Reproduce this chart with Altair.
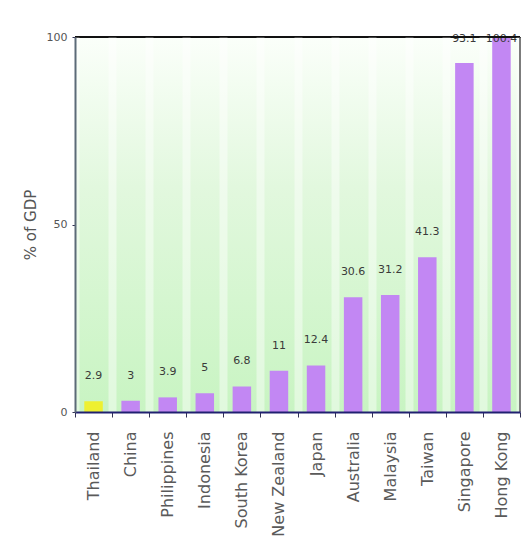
import altair as alt
import pandas as pd

countries = ["Thailand", "China", "Philippines", "Indonesia", "South Korea",
             "New Zealand", "Japan", "Australia", "Malaysia", "Taiwan",
             "Singapore", "Hong Kong"]
values = [2.9, 3.0, 3.9, 5.0, 6.8, 11.0, 12.4, 30.6, 31.2, 41.3, 93.1, 100.4]
labels = ["2.9", "3", "3.9", "5", "6.8", "11", "12.4", "30.6", "31.2", "41.3",
          "93.1", "100.4"]
highlight = ["Thailand"]

df = pd.DataFrame({"country": countries, "value": values, "label": labels})
df["hl"] = df["country"].isin(highlight).map({True: "yes", False: "no"})

W, H = 445, 375

xenc = alt.X("country:N", sort=countries, title=None,
             scale=alt.Scale(paddingInner=0, paddingOuter=0),
             axis=alt.Axis(labelAngle=-90, labelFont="DejaVu Sans",
                           labelFontSize=16, labelColor="#5a5a5a",
                           labelPadding=14, tickSize=5, tickColor="#333355",
                           domainColor="#202070", domainWidth=2,
                           tickBand="extent", grid=True, gridColor="#ffffff",
                           gridWidth=8, gridOpacity=0.45, zindex=1))
yscale = alt.Scale(domain=[0, 100], clamp=True, nice=False)

bg = alt.Chart(df).mark_rect(
    color=alt.Gradient(gradient="linear",
                       stops=[alt.GradientStop(color="#fbfffa", offset=0),
                              alt.GradientStop(color="#e2f8de", offset=0.4),
                              alt.GradientStop(color="#c8f4c2", offset=1)],
                       x1=0, x2=0, y1=0, y2=1)
).encode(x=alt.value(0), x2=alt.value(W), y=alt.value(0), y2=alt.value(H))

bars = alt.Chart(df).mark_bar(size=18.5).encode(
    x=xenc,
    y=alt.Y("value:Q", scale=yscale, title="% of GDP",
            axis=alt.Axis(values=[0, 50, 100], labelFont="DejaVu Sans",
                          labelFontSize=11, labelColor="#555555",
                          tickSize=3, tickColor="#333355", labelPadding=5,
                          domainColor="#5c6b78", domainWidth=2, grid=False,
                          titleFont="DejaVu Sans", titleFontSize=15,
                          titleFontWeight="normal", titleColor="#555555",
                          titlePadding=8, zindex=1)),
    color=alt.Color("hl:N", scale=alt.Scale(domain=["no", "yes"],
                                            range=["#c287f3", "#eef030"]),
                    legend=None),
)

text = alt.Chart(df).transform_calculate(
    ly="min(datum.value + 6.7, 99.6)"
).mark_text(baseline="middle", font="DejaVu Sans", fontSize=11,
            color="#3a3a3a").encode(
    x=alt.X("country:N", sort=countries),
    y=alt.Y("ly:Q", scale=yscale),
    text="label:N",
)

top_border = alt.Chart(df).mark_rule(color="#111111", strokeWidth=2).encode(
    x=alt.value(0), x2=alt.value(W), y=alt.value(0))
right_border = alt.Chart(df).mark_rule(color="#111111", strokeWidth=2).encode(
    x=alt.value(W), y=alt.value(0), y2=alt.value(H))

chart = alt.layer(bg, bars, text, top_border, right_border).properties(
    width=W, height=H,
    autosize=alt.AutoSizeParams(type="none"),
    padding={"left": 75, "top": 37, "right": 5, "bottom": 140},
).configure_view(stroke=None).configure(background="#ffffff")

chart.save("out.html", embed_options={"renderer": "svg", "actions": False})
